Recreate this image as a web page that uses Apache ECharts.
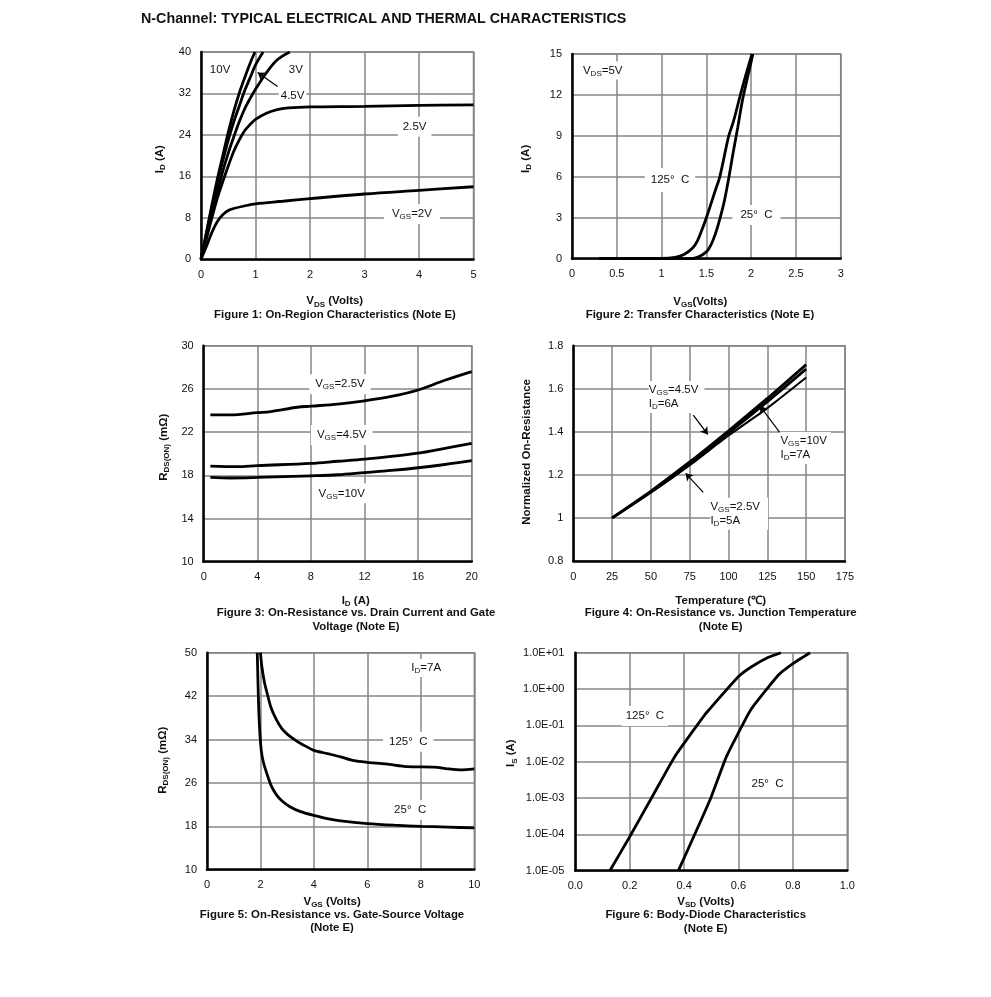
<!DOCTYPE html>
<html>
<head>
<meta charset="utf-8">
<title>N-Channel characteristics</title>
<script src="https://cdn.jsdelivr.net/npm/echarts@6/dist/echarts.min.js"></script>
<style>
  html, body { margin: 0; padding: 0; background: #fff; }
  #chart { width: 991px; height: 997px; }
</style>
</head>
<body>
<div id="chart"></div>
<script>
// Figure 1: ID vs VDS
const fig1Vgs2 = [[0,0],[0.1,2.5],[0.2,5.2],[0.3,7.3],[0.4,8.6],[0.5,9.4],[0.6,9.8],[0.8,10.3],[1,10.7],[1.5,11.2],[2,11.7],[3,12.6],[4,13.3],[5,14]];
const fig1Vgs25 = [[0,0],[0.1,4],[0.2,8],[0.3,11.8],[0.4,15],[0.5,18],[0.6,20.8],[0.7,23],[0.8,24.8],[0.9,26],[1,27],[1.2,28.2],[1.4,28.9],[1.6,29.2],[2,29.4],[3,29.5],[4,29.7],[5,29.8]];
const fig1Vgs3 = [[0,0],[0.1,4.6],[0.2,9],[0.3,13],[0.4,17],[0.5,20.5],[0.6,23.6],[0.7,26.5],[0.8,29],[0.9,31],[1,32.8],[1.2,36],[1.4,38.5],[1.63,40]];
const fig1Vgs45 = [[0,0],[0.1,5],[0.2,10],[0.3,14.8],[0.4,19],[0.5,23],[0.6,26.5],[0.7,29.5],[0.8,32.5],[0.9,35],[1,37.5],[1.14,40]];
const fig1Vgs10 = [[0,0],[0.1,5.2],[0.2,10.5],[0.3,15.5],[0.4,20],[0.5,24.5],[0.6,28.5],[0.7,32],[0.8,35],[0.9,37.8],[0.99,40]];

// Figure 2: ID vs VGS
const fig2T125 = [[0.3,0],[1,0.02],[1.15,0.1],[1.25,0.3],[1.35,0.8],[1.4,1.3],[1.45,2.1],[1.5,3],[1.6,5],[1.65,6],[1.75,9],[1.8,10],[1.9,12.5],[2.01,15]];
const fig2T25 = [[0.3,0],[1.3,0],[1.4,0.1],[1.5,0.5],[1.55,1],[1.6,1.8],[1.65,2.9],[1.7,4.2],[1.75,5.9],[1.8,7.8],[1.85,9.6],[1.9,11.5],[1.95,13],[2.02,15]];

// Figure 3: RDS(ON) vs ID
const fig3Vgs25 = [[0.5,23.6],[2,23.6],[4,23.8],[5,23.9],[7,24.3],[8,24.4],[10,24.6],[12,24.9],[14,25.3],[16,25.9],[18,26.8],[20,27.6]];
const fig3Vgs45 = [[0.5,18.85],[2.5,18.8],[4,18.9],[8,19.1],[10,19.3],[12,19.5],[14,19.75],[16,20.05],[18,20.5],[20,20.95]];
const fig3Vgs10 = [[0.5,17.8],[2,17.75],[4,17.8],[8,17.95],[10,18.05],[12,18.25],[14,18.45],[16,18.7],[18,19],[20,19.35]];

// Figure 4: normalized RDS(ON) vs temperature
const fig4Vgs45 = [[25,1],[50,1.125],[75,1.26],[100,1.405],[125,1.555],[150,1.712]];
const fig4Vgs25 = [[25,1],[50,1.12],[75,1.25],[100,1.395],[125,1.54],[150,1.692]];
const fig4Vgs10 = [[25,1],[50,1.118],[75,1.245],[100,1.383],[125,1.51],[150,1.652]];

// Figure 5: RDS(ON) vs VGS
const fig5T125 = [[2,50],[2.05,47.5],[2.15,44.5],[2.25,42.5],[2.4,39.8],[2.6,37.6],[2.8,36],[3,35],[3.3,33.9],[3.6,33],[4,32],[4.5,31.4],[5,30.8],[5.5,30.1],[6,29.8],[6.7,29.5],[7.5,29],[8.5,28.9],[9,28.6],[9.5,28.4],[10,28.6]];
const fig5T25 = [[1.88,50],[1.91,44],[1.94,39],[1.98,35],[2.03,32],[2.1,30],[2.2,28.3],[2.4,25.5],[2.6,23.8],[2.8,22.7],[3.1,21.6],[3.5,20.7],[4,20],[4.5,19.4],[5,19],[6,18.5],[7,18.2],[8,18],[9,17.85],[10,17.7]];

// Figure 6: IS vs VSD
const fig6T125 = [[0.127,1e-5],[0.2,8.6e-5],[0.28,1e-3],[0.366,1.4e-2],[0.47,0.17],[0.49,0.26],[0.6,2.2],[0.648,4.1],[0.71,7.5],[0.756,10]];
const fig6T25 = [[0.379,1e-5],[0.495,8.8e-4],[0.556,1.4e-2],[0.624,0.14],[0.648,0.29],[0.746,2.4],[0.8,5],[0.863,10]];

// tick labels
const fig1XTicks = [0,1,2,3,4,5];
const fig1YTicks = [0,8,16,24,32,40];
const fig2XTicks = [0,0.5,1,1.5,2,2.5,3];
const fig2YTicks = [0,3,6,9,12,15];
const fig3XTicks = [0,4,8,12,16,20];
const fig3YTicks = [10,14,18,22,26,30];
const fig4XTicks = [0,25,50,75,100,125,150,175];
const fig4YTicks = [0.8,1,1.2,1.4,1.6,1.8];
const fig5XTicks = [0,2,4,6,8,10];
const fig5YTicks = [10,18,26,34,42,50];
const fig6XTicks = [0,0.2,0.4,0.6,0.8,1];
const fig6YTicks = [1e-5,1e-4,1e-3,1e-2,1e-1,1,10];

const FONT = '"Liberation Sans", Arial, sans-serif';
const GREY = '#868686';

// rich text pieces for the subscripts
const rich = {
  n: { fontFamily: FONT, fontSize: 11.5, color: '#111', lineHeight: 14, verticalAlign: 'middle' },
  s: { fontFamily: FONT, fontSize: 8, color: '#111', lineHeight: 8, verticalAlign: 'bottom' },
  b: { fontFamily: FONT, fontSize: 11.5, fontWeight: 'bold', color: '#111', lineHeight: 14, verticalAlign: 'middle' },
  bs: { fontFamily: FONT, fontSize: 8, fontWeight: 'bold', color: '#111', lineHeight: 8, verticalAlign: 'bottom' }
};
const sub = (a, b, c) => `{n|${a}}{s|${b}}{n|${c}}`;
const subB = (a, b, c) => `{b|${a}}{bs|${b}}{b|${c}}`;
const plain = t => `{n|${t}}`;

const option = {
  animation: false,
  backgroundColor: '#fff',
  title: [
    { text: 'N-Channel: TYPICAL ELECTRICAL AND THERMAL CHARACTERISTICS', left: 141, top: 12, padding: 0, textStyle: { fontFamily: FONT, fontSize: 14.3, fontWeight: 'bold', color: '#111' } }
  ],
  grid: [], xAxis: [], yAxis: [], series: []
};

function addFigure(cfg) {
  const i = option.grid.length;
  option.grid.push({ left: cfg.box[0], top: cfg.box[1], width: cfg.box[2], height: cfg.box[3], show: true, borderColor: GREY, borderWidth: 1.5 });
  option.title.push({
    text: cfg.caption, left: cfg.captionPos[0], top: cfg.captionPos[1], textAlign: 'center', padding: 0,
    textStyle: { fontFamily: FONT, fontSize: 11.4, fontWeight: 'bold', color: '#111', lineHeight: 13.5 }
  });
  const axisBase = {
    nameLocation: 'middle', axisTick: { show: false },
    axisLine: { onZero: false, lineStyle: { color: '#000', width: 2.5 } },
    splitLine: { show: true, lineStyle: { color: GREY, width: 1.5 } }
  };
  option.xAxis.push(Object.assign({}, axisBase, {
    gridIndex: i, type: 'value', min: cfg.xTicks[0], max: cfg.xTicks[cfg.xTicks.length - 1],
    name: cfg.xName, nameGap: cfg.xGap,
    nameTextStyle: { rich, padding: cfg.xPad },
    axisTick: { show: false, customValues: cfg.xTicks },
    axisLabel: { customValues: cfg.xTicks, margin: 10, fontFamily: FONT, fontSize: 11, color: '#111', formatter: cfg.xFormat }
  }));
  option.yAxis.push(Object.assign({}, axisBase, {
    gridIndex: i, type: cfg.yLog ? 'log' : 'value', min: cfg.yTicks[0], max: cfg.yTicks[cfg.yTicks.length - 1],
    name: cfg.yName, nameGap: cfg.yGap, nameRotate: 90,
    nameTextStyle: { rich, padding: cfg.yPad },
    axisTick: { show: false, customValues: cfg.yTicks },
    axisLabel: { customValues: cfg.yTicks, margin: cfg.yLog ? 11 : 10, fontFamily: FONT, fontSize: 11, color: '#111', formatter: cfg.yFormat }
  }));
  cfg.curves.forEach(c => option.series.push({
    type: 'line', xAxisIndex: i, yAxisIndex: i, data: c.data, showSymbol: false,
    smooth: c.smooth === undefined ? 0.35 : c.smooth,
    lineStyle: { color: '#000', width: c.width || 2.8 }
  }));
  // annotations live in one empty series, placed by axis values
  option.series.push({
    type: 'line', xAxisIndex: i, yAxisIndex: i, data: [], z: 5,
    markPoint: {
      symbol: 'circle', symbolSize: 1, itemStyle: { color: 'rgba(0,0,0,0)' }, silent: true,
      data: cfg.notes.map(n => ({
        coord: n.at,
        label: {
          show: true, formatter: n.text, rich,
          position: n.left ? 'right' : 'inside', distance: 0,
          align: n.left ? 'left' : 'center', verticalAlign: 'middle',
          backgroundColor: '#fff', padding: n.pad || [3, 5]
        }
      }))
    },
    markLine: {
      silent: true, symbol: ['none', 'arrow'], symbolSize: 7,
      lineStyle: { color: '#000', width: 1.2, type: 'solid' }, label: { show: false },
      data: (cfg.arrows || []).map(a => [{ coord: a[0] }, { coord: a[1] }])
    }
  });
}

addFigure({
  box: [201, 52, 272.5, 207.3],
  xTicks: fig1XTicks, yTicks: fig1YTicks,
  xName: subB('V', 'DS', ' (Volts)'), xGap: 35, xPad: [0, 5, 0, 0],
  yName: subB('I', 'D', ' (A)'), yGap: 34, yPad: [0, 7, 0, 0],
  caption: 'Figure 1: On-Region Characteristics (Note E)', captionPos: [335, 308],
  curves: [{ data: fig1Vgs2 }, { data: fig1Vgs25 }, { data: fig1Vgs3 }, { data: fig1Vgs45 }, { data: fig1Vgs10 }],
  notes: [
    { at: [0.35, 36.6], text: plain('10V') },
    { at: [1.74, 36.6], text: plain('3V') },
    { at: [1.68, 31.6], text: plain('4.5V'), pad: [1, 2] },
    { at: [3.92, 25.6], text: plain('2.5V'), pad: [3, 5] },
    { at: [3.87, 8.75], text: sub('V', 'GS', '=2V'), pad: [3, 8] }
  ],
  arrows: [[[1.405, 33.35], [1.04, 36.05]]]
});

addFigure({
  box: [572, 54, 268.7, 204.7],
  xTicks: fig2XTicks, yTicks: fig2YTicks,
  xName: subB('V', 'GS', '(Volts)'), xGap: 36, xPad: [0, 12, 0, 0],
  yName: subB('I', 'D', ' (A)'), yGap: 39, yPad: [0, 5, 0, 0],
  caption: 'Figure 2: Transfer Characteristics (Note E)', captionPos: [700, 308],
  curves: [{ data: fig2T125 }, { data: fig2T25 }],
  notes: [
    { at: [0.343, 13.8], text: sub('V', 'DS', '=5V'), pad: [2, 2] },
    { at: [1.094, 5.77], text: plain('125°  C'), pad: [5, 6] },
    { at: [2.06, 3.2], text: plain('25°  C'), pad: [3, 8] }
  ]
});

addFigure({
  box: [203.7, 345.7, 268, 216],
  xTicks: fig3XTicks, yTicks: fig3YTicks,
  xName: subB('I', 'D', ' (A)'), xGap: 32, xPad: [0, 0, 0, 36],
  yName: subB('R', 'DS(ON)', ' (mΩ)'), yGap: 33, yPad: [0, 0, 0, 13],
  caption: 'Figure 3: On-Resistance vs. Drain Current and Gate\nVoltage (Note E)', captionPos: [356, 606.5],
  curves: [{ data: fig3Vgs25 }, { data: fig3Vgs45 }, { data: fig3Vgs10 }],
  notes: [
    { at: [10.17, 26.43], text: sub('V', 'GS', '=2.5V'), pad: [3, 6] },
    { at: [10.3, 21.73], text: sub('V', 'GS', '=4.5V'), pad: [3, 6] },
    { at: [10.3, 16.33], text: sub('V', 'GS', '=10V'), pad: [3, 6] }
  ]
});

addFigure({
  box: [573.3, 345.7, 271.7, 215.3],
  xTicks: fig4XTicks, yTicks: fig4YTicks,
  xName: '{b|Temperature (℃)}', xGap: 33, xPad: [0, 0, 0, 23],
  yName: '{b|Normalized On-Resistance}', yGap: 39, yPad: [0, 0, 0, 3],
  caption: 'Figure 4: On-Resistance vs. Junction Temperature\n(Note E)', captionPos: [720.7, 606.5],
  curves: [{ data: fig4Vgs45, smooth: 0.2 }, { data: fig4Vgs25, smooth: 0.2 }, { data: fig4Vgs10, smooth: 0.2, width: 2 }],
  notes: [
    { at: [48.3, 1.562], text: sub('V', 'GS', '=4.5V') + '\n' + sub('I', 'D', '=6A'), left: true, pad: [2, 6, 2, 0] },
    { at: [133.1, 1.325], text: sub('V', 'GS', '=10V') + '\n' + sub('I', 'D', '=7A'), left: true, pad: [2, 4, 2, 0] },
    { at: [88, 1.02], text: sub('V', 'GS', '=2.5V') + '\n' + sub('I', 'D', '=5A'), left: true, pad: [2, 8, 2, 0] }
  ],
  arrows: [
    [[77.3, 1.478], [86.6, 1.388]],
    [[132.7, 1.4], [120.2, 1.52]],
    [[83.7, 1.119], [72.4, 1.207]]
  ]
});

addFigure({
  box: [207, 652.7, 267.3, 217],
  xTicks: fig5XTicks, yTicks: fig5YTicks,
  xName: subB('V', 'GS', ' (Volts)'), xGap: 25, xPad: [0, 17, 0, 0],
  yName: subB('R', 'DS(ON)', ' (mΩ)'), yGap: 37, yPad: [0, 0, 0, 2],
  caption: 'Figure 5: On-Resistance vs. Gate-Source Voltage\n(Note E)', captionPos: [332, 908],
  curves: [{ data: fig5T125, smooth: 0.25 }, { data: fig5T25, smooth: 0.25 }],
  notes: [
    { at: [8.2, 47.2], text: sub('I', 'D', '=7A'), pad: [2, 2] },
    { at: [7.53, 33.6], text: plain('125°  C'), pad: [3, 6] },
    { at: [7.6, 21], text: plain('25°  C'), pad: [3, 6] }
  ]
});

addFigure({
  box: [575.3, 652.7, 272, 218],
  xTicks: fig6XTicks, yTicks: fig6YTicks, yLog: true,
  xFormat: v => v.toFixed(1),
  yFormat: v => {
    const [m, e] = v.toExponential(1).split('e');
    return m + 'E' + e[0] + e.slice(1).padStart(2, '0');
  },
  xName: subB('V', 'SD', ' (Volts)'), xGap: 24, xPad: [0, 11, 0, 0],
  yName: subB('I', 'S', ' (A)'), yGap: 57, yPad: [0, 0, 0, 17],
  caption: 'Figure 6: Body-Diode Characteristics\n(Note E)', captionPos: [705.7, 908.5],
  curves: [{ data: fig6T125, smooth: 0.15 }, { data: fig6T25, smooth: 0.15 }],
  notes: [
    { at: [0.256, 0.182], text: plain('125°  C'), pad: [3, 4] },
    { at: [0.707, 2.45e-3], text: plain('25°  C'), pad: [5, 6] }
  ]
});

echarts.init(document.getElementById('chart'), null, { renderer: 'canvas' }).setOption(option);
</script>
</body>
</html>
